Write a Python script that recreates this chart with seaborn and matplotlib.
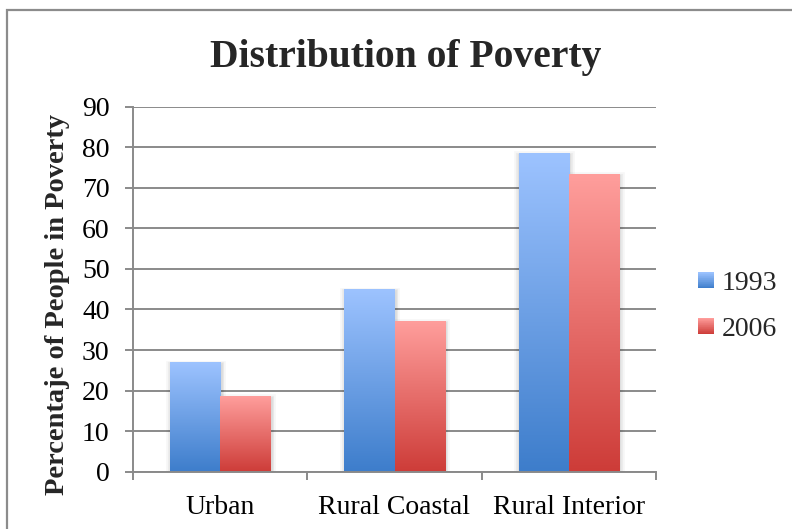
import numpy as np
import pandas as pd
import matplotlib
matplotlib.use("Agg")
import matplotlib.pyplot as plt
import matplotlib.patheffects as pe
import seaborn as sns
from matplotlib.colors import LinearSegmentedColormap
from matplotlib.patches import Rectangle
from matplotlib.legend_handler import HandlerBase

# ---- data ----
categories = ["Urban", "Rural Coastal", "Rural Interior"]
years = ["1993", "2006"]
values_1993 = [27.0, 45.0, 78.6]
values_2006 = [18.7, 37.2, 73.4]
y_ticks = [0, 10, 20, 30, 40, 50, 60, 70, 80, 90]

# gradient colours per series: (bottom, top)
series_colors = {
    "1993": ("#3d7dcb", "#9dc3ff"),
    "2006": ("#cd3c38", "#ff9e9c"),
}

sns.set_theme(style="white")
plt.rcParams["font.family"] = ["Liberation Serif", "DejaVu Serif"]

GRID = "#8a8a8a"

fig = plt.figure(figsize=(7.92, 5.29), dpi=100)
W, H = 792, 529
ax = fig.add_axes([133 / W, 1 - 471.7 / H, (656 - 133) / W, (471.7 - 106.7) / H])

df = pd.DataFrame({
    "Area": categories * 2,
    "Year": [years[0]] * len(categories) + [years[1]] * len(categories),
    "Percent": values_1993 + values_2006,
})

sns.barplot(
    data=df, x="Area", y="Percent", hue="Year",
    order=categories, hue_order=years,
    palette=[series_colors[y][0] for y in years],
    width=0.574, gap=0, errorbar=None, legend=False,
    saturation=1, linewidth=0, ax=ax,
)

cmaps = {y: LinearSegmentedColormap.from_list(y, list(series_colors[y])) for y in years}
grad = np.linspace(0, 1, 256).reshape(-1, 1)

# replace flat fills with vertical gradients plus a soft drop shadow
shadow = [
    pe.Stroke(offset=(0.5, -2.5), linewidth=7, foreground="black", alpha=0.03),
    pe.Stroke(offset=(0.5, -2), linewidth=4.5, foreground="black", alpha=0.045),
    pe.Stroke(offset=(0.3, -1.5), linewidth=2.5, foreground="black", alpha=0.06),
    pe.Normal(),
]
for year, container in zip(years, ax.containers):
    for bar in container:
        x0, y0 = bar.get_x(), bar.get_y()
        w, h = bar.get_width(), bar.get_height()
        bar.set_path_effects(shadow)
        bar.set_zorder(1.5)
        ax.imshow(grad, extent=[x0, x0 + w, y0, y0 + h], origin="lower",
                  aspect="auto", cmap=cmaps[year], interpolation="bicubic",
                  zorder=2)

ax.set_xlim(-0.5, len(categories) - 0.5)
ax.set_ylim(0, 90)
ax.set_yticks(y_ticks)
ax.set_xlabel("")
ax.set_ylabel("")

ax.set_axisbelow(True)
ax.yaxis.grid(True, color=GRID, linewidth=1.4)
ax.xaxis.grid(False)
for side in ("top", "right"):
    ax.spines[side].set_visible(False)
for side in ("left", "bottom"):
    ax.spines[side].set_color(GRID)
    ax.spines[side].set_linewidth(1.4)

ax.tick_params(axis="y", left=True, length=5.8, width=1.4, color=GRID,
               pad=11, labelsize=20, labelcolor="black", direction="out")
ax.tick_params(axis="x", which="major", bottom=True, length=0, pad=17,
               labelsize=20, labelcolor="black")
ax.set_xticks(np.arange(-0.5, len(categories)), minor=True)
ax.tick_params(axis="x", which="minor", bottom=True, length=5.8, width=1.4,
               color=GRID, direction="out")


class GradientHandler(HandlerBase):
    def __init__(self, cmap, n=24):
        super().__init__()
        self.cmap = cmap
        self.n = n

    def create_artists(self, legend, orig_handle, xdescent, ydescent,
                       width, height, fontsize, trans):
        arts = []
        for i in range(self.n):
            arts.append(Rectangle(
                (-xdescent, -ydescent + height * i / self.n),
                width, height / self.n * 1.05,
                facecolor=self.cmap((i + 0.5) / self.n), edgecolor="none",
                transform=trans))
        return arts


proxies = [Rectangle((0, 0), 1, 1) for _ in years]
fig.legend(
    proxies, years,
    handler_map={p: GradientHandler(cmaps[y]) for p, y in zip(proxies, years)},
    loc="center left", bbox_to_anchor=(698 / W, 1 - 306.5 / H),
    frameon=False, borderpad=0, borderaxespad=0,
    fontsize=20, handlelength=0.56, handleheight=0.5,
    handletextpad=0.3, labelspacing=0.75,
)

fig.text(406 / W, 1 - 67 / H, "Distribution of Poverty", ha="center",
         va="baseline", fontsize=28.5, fontweight="bold")
fig.text(57 / W, 1 - 304.5 / H, "Percentaje of People in Poverty",
         rotation=90, ha="center", va="center", fontsize=20.5,
         fontweight="bold")

# chart-area frame
fig.patches.append(Rectangle((7 / W, -0.5), 2, (1 - 10 / H) + 0.5,
                             transform=fig.transFigure, fill=False,
                             edgecolor="#8c8c8c", linewidth=1.6))

fig.savefig("out.png", dpi=100)
